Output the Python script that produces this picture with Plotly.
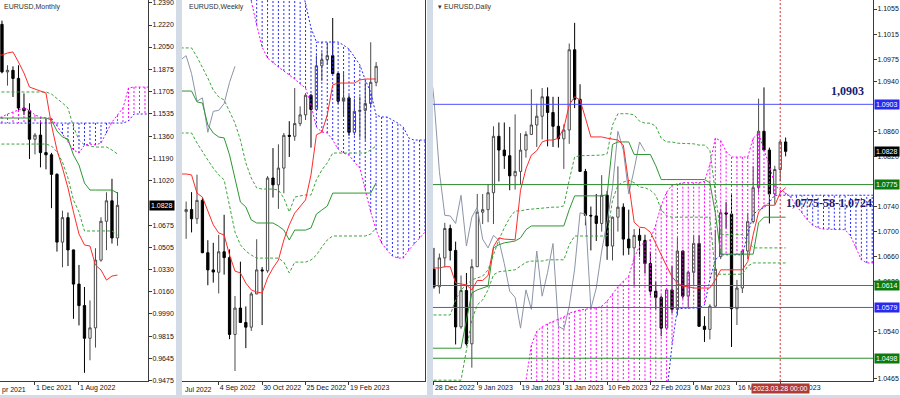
import pandas as pd
import plotly.graph_objects as go

# ===================== MONTHLY (EURUSD, MN1) =====================
m_dates = pd.date_range("2021-06-01", periods=22, freq="MS")
m_open = [1.2225, 1.1858, 1.1870, 1.1808, 1.1579, 1.1558, 1.1338, 1.1370, 1.1235, 1.1218, 1.1067,
          1.0544, 1.0733, 1.0484, 1.0220, 1.0054, 0.9802, 0.9882, 1.0405, 1.0705, 1.0863, 1.0576]
m_high = [1.2254, 1.1909, 1.1901, 1.1909, 1.1692, 1.1616, 1.1386, 1.1483, 1.1495, 1.1233, 1.1076,
          1.0787, 1.0773, 1.0486, 1.0368, 1.0198, 1.0094, 1.0497, 1.0736, 1.0929, 1.1033, 1.0930]
m_low = [1.1847, 1.1752, 1.1664, 1.1563, 1.1524, 1.1186, 1.1221, 1.1121, 1.1106, 1.0806, 1.0471,
         1.0349, 1.0359, 0.9952, 0.9901, 0.9535, 0.9632, 0.9730, 1.0393, 1.0482, 1.0533, 1.0516]
m_close = [1.1858, 1.1870, 1.1808, 1.1579, 1.1558, 1.1338, 1.1370, 1.1235, 1.1218, 1.1067, 1.0544,
           1.0733, 1.0484, 1.0220, 1.0054, 0.9802, 0.9882, 1.0405, 1.0705, 1.0863, 1.0576, 1.0828]
M_LINE_START = -1  # first bar position of the indicator arrays
m_tenkan = [1.1988, 1.1988, 1.2004, 1.2012, 1.1934, 1.1849, 1.1741, 1.1726, 1.1710, 1.1695, 1.1448,
            1.1255, 1.1116, 1.0962, 1.0776, 1.0607, 1.0522, 1.0514, 1.0367, 1.0329, 1.0251, 1.0282, 1.0290]
m_kijun = [1.1502, 1.1502, 1.1502, 1.1502, 1.1502, 1.1502, 1.1502, 1.1502, 1.1502, 1.1502, 1.1487,
           1.1402, 1.1355, 1.1340, 1.1216, 1.1139, 1.1000, 1.0946, 1.0946, 1.0946, 1.0946, 1.0946, 1.0923]
m_dash_up = [1.1703, 1.1703, 1.1703, 1.1703, 1.1703, 1.1703, 1.1703, 1.1703, 1.1703, 1.1703, 1.1687,
             1.1656, 1.1618, 1.1579, 1.1433, 1.1332, 1.1294, 1.1286, 1.1278, 1.1278, 1.1278, 1.1255, 1.1224]
m_dash_dn = [1.1301, 1.1301, 1.1301, 1.1301, 1.1301, 1.1301, 1.1301, 1.1301, 1.1301, 1.1301, 1.1286,
             1.1240, 1.1162, 1.1039, 1.0869, 1.0776, 1.0630, 1.0630, 1.0630, 1.0630, 1.0630, 1.0630, 1.0599]
m_span_a = [1.1502, 1.1510, 1.1533, 1.1548, 1.1564, 1.1579, 1.1564, 1.1525, 1.1510, 1.1502, 1.1502,
            1.1440, 1.1379, 1.1324, 1.1255, 1.1232, 1.1294, 1.1301, 1.1294, 1.1309, 1.1386, 1.1471,
            1.1525, 1.1579, 1.1734, 1.1741, 1.1741, 1.1741, 1.1741]
m_span_b = [1.1463, 1.1463, 1.1463, 1.1463, 1.1463, 1.1463, 1.1463, 1.1463, 1.1463, 1.1463, 1.1463,
            1.1463, 1.1463, 1.1463, 1.1463, 1.1463, 1.1463, 1.1463, 1.1463, 1.1463, 1.1463, 1.1463,
            1.1463, 1.1463, 1.1479, 1.1533, 1.1533, 1.1533, 1.1533]
m_yticks = [1.2390, 1.2220, 1.2050, 1.1875, 1.1705, 1.1535, 1.1360, 1.1190, 1.1020, 1.0675,
            1.0505, 1.0330, 1.0160, 0.9990, 0.9815, 0.9645, 0.9475]
m_xtick_dates = ["2021-12-01", "2022-08-01"]
m_xtick_text = ["1 Dec 2021", "1 Aug 2022"]

# ===================== WEEKLY (EURUSD, W1) =====================
w_dates = pd.date_range("2022-07-24", periods=36, freq="7D")
w_open = [1.0211, 1.0220, 1.0181, 1.0259, 1.0037, 0.9964, 0.9954, 1.0041, 1.0016, 0.9690, 0.9802, 0.9741,
          0.9721, 0.9862, 0.9964, 0.9960, 1.0354, 1.0325, 1.0396, 1.0535, 1.0531, 1.0585, 1.0622, 1.0705,
          1.0645, 1.0830, 1.0856, 1.0873, 1.0797, 1.0680, 1.0694, 1.0548, 1.0637, 1.0641, 1.0670, 1.0760]
w_high = [1.0254, 1.0294, 1.0368, 1.0268, 1.0090, 1.0079, 1.0113, 1.0198, 1.0051, 0.9853, 0.9999, 0.9809,
          0.9871, 1.0094, 0.9976, 1.0362, 1.0481, 1.0497, 1.0545, 1.0595, 1.0736, 1.0658, 1.0714, 1.0711,
          1.0874, 1.0887, 1.0929, 1.1033, 1.0801, 1.0804, 1.0705, 1.0691, 1.0700, 1.0760, 1.0930, 1.0846]
w_low = [1.0096, 1.0123, 1.0159, 1.0035, 0.9899, 0.9910, 0.9864, 0.9944, 0.9670, 0.9535, 0.9739, 0.9632,
         0.9705, 0.9861, 0.9730, 0.9952, 1.0271, 1.0223, 1.0289, 1.0443, 1.0512, 1.0574, 1.0600, 1.0483,
         1.0644, 1.0766, 1.0835, 1.0796, 1.0669, 1.0613, 1.0533, 1.0535, 1.0525, 1.0516, 1.0655, 1.0743]
w_close = [1.0220, 1.0181, 1.0259, 1.0037, 0.9964, 0.9955, 1.0041, 1.0016, 0.9690, 0.9802, 0.9741, 0.9721,
           0.9862, 0.9964, 0.9960, 1.0354, 1.0325, 1.0396, 1.0535, 1.0531, 1.0585, 1.0622, 1.0705, 1.0645,
           1.0830, 1.0856, 1.0873, 1.0797, 1.0680, 1.0694, 1.0548, 1.0637, 1.0641, 1.0670, 1.0760, 1.0828]
W_LINE_START = -1
w_tenkan = [1.0371, 1.0371, 1.0367, 1.0290, 1.0273, 1.0218, 1.0155, 1.0121, 1.0112, 1.0027, 0.9959, 0.9951,
            0.9908, 0.9879, 0.9870, 0.9866, 0.9930, 0.9972, 1.0006, 1.0091, 1.0155, 1.0205, 1.0231, 1.0261,
            1.0367, 1.0537, 1.0549, 1.0621, 1.0749, 1.0757, 1.0757, 1.0757, 1.0757, 1.0770, 1.0774, 1.0774,
            1.0774]
w_kijun = [1.0723, 1.0723, 1.0723, 1.0677, 1.0672, 1.0579, 1.0545, 1.0528, 1.0524, 1.0452, 1.0358, 1.0252,
           1.0231, 1.0176, 1.0163, 1.0163, 1.0163, 1.0163, 1.0150, 1.0133, 1.0091, 1.0133, 1.0133, 1.0133,
           1.0142, 1.0201, 1.0218, 1.0235, 1.0290, 1.0290, 1.0290, 1.0290, 1.0290, 1.0290, 1.0290, 1.0290,
           1.0333]
w_dash_up = [1.0906, 1.0906, 1.0906, 1.0868, 1.0825, 1.0778, 1.0727, 1.0698, 1.0685, 1.0634, 1.0587, 1.0515,
             1.0418, 1.0354, 1.0312, 1.0307, 1.0307, 1.0307, 1.0303, 1.0269, 1.0210, 1.0273, 1.0278, 1.0282,
             1.0282, 1.0346, 1.0388, 1.0418, 1.0460, 1.0460, 1.0460, 1.0460, 1.0460, 1.0460, 1.0460, 1.0473,
             1.0490]
w_dash_dn = [1.0545, 1.0545, 1.0545, 1.0503, 1.0464, 1.0430, 1.0396, 1.0367, 1.0346, 1.0239, 1.0125, 1.0070,
             1.0044, 1.0027, 1.0014, 1.0014, 1.0014, 1.0014, 1.0014, 0.9997, 0.9951, 0.9997, 0.9997, 0.9997,
             1.0006, 1.0027, 1.0061, 1.0091, 1.0108, 1.0108, 1.0108, 1.0108, 1.0108, 1.0108, 1.0108, 1.0116,
             1.0142]
w_span_a = [1.1400, 1.1390, 1.1380, 1.1370, 1.1360, 1.1350, 1.1340, 1.1320, 1.1300, 1.1280, 1.1250, 1.1200,
            1.1150, 1.1105, 1.1003, 1.0910, 1.0863, 1.0842, 1.0825, 1.0808, 1.0791, 1.0774, 1.0753, 1.0736,
            1.0664, 1.0570, 1.0549, 1.0545, 1.0515, 1.0477, 1.0460, 1.0451, 1.0422, 1.0396, 1.0303, 1.0210,
            1.0133, 1.0078, 1.0048, 1.0023, 1.0014, 1.0014, 1.0048, 1.0074, 1.0099, 1.0129, 1.0150]
w_span_b = [1.1500, 1.1500, 1.1500, 1.1500, 1.1500, 1.1500, 1.1500, 1.1500, 1.1500, 1.1500, 1.1500, 1.1500,
            1.1500, 1.1480, 1.1460, 1.1440, 1.1420, 1.1400, 1.1380, 1.1360, 1.1340, 1.1300, 1.1200, 1.1097,
            1.0991, 1.0931, 1.0931, 1.0931, 1.0931, 1.0931, 1.0918, 1.0901, 1.0868, 1.0834, 1.0770, 1.0719,
            1.0621, 1.0613, 1.0613, 1.0600, 1.0587, 1.0570, 1.0524, 1.0515, 1.0515, 1.0515, 1.0515]
w_xtick_dates = ["2022-09-04", "2022-10-30", "2022-12-25", "2023-02-19"]
w_xtick_text = ["4 Sep 2022", "30 Oct 2022", "25 Dec 2022", "19 Feb 2023"]

# ===================== DAILY (EURUSD, D1) =====================
d_dates = pd.bdate_range("2022-12-28", "2023-03-29")
d_open = [1.0640, 1.0612, 1.0658, 1.0705, 1.0670, 1.0548, 1.0606, 1.0521, 1.0644, 1.0731, 1.0735, 1.0762,
          1.0852, 1.0830, 1.0821, 1.0789, 1.0796, 1.0830, 1.0855, 1.0870, 1.0884, 1.0915, 1.0890, 1.0868,
          1.0848, 1.0862, 1.0990, 1.0911, 1.0796, 1.0726, 1.0725, 1.0713, 1.0758, 1.0677, 1.0723, 1.0739,
          1.0688, 1.0674, 1.0694, 1.0686, 1.0649, 1.0605, 1.0595, 1.0546, 1.0607, 1.0576, 1.0669, 1.0597,
          1.0635, 1.0681, 1.0549, 1.0544, 1.0581, 1.0660, 1.0730, 1.0728, 1.0577, 1.0610, 1.0669, 1.0716,
          1.0770, 1.0860, 1.0830, 1.0760, 1.0799, 1.0843]
d_high = [1.0674, 1.0665, 1.0714, 1.0711, 1.0684, 1.0630, 1.0634, 1.0656, 1.0760, 1.0760, 1.0776, 1.0868,
          1.0874, 1.0874, 1.0867, 1.0887, 1.0857, 1.0860, 1.0927, 1.0904, 1.0929, 1.0930, 1.0915, 1.0915,
          1.0871, 1.1000, 1.1033, 1.0935, 1.0800, 1.0740, 1.0760, 1.0790, 1.0765, 1.0724, 1.0804, 1.0745,
          1.0735, 1.0704, 1.0705, 1.0695, 1.0668, 1.0620, 1.0598, 1.0610, 1.0645, 1.0690, 1.0670, 1.0638,
          1.0694, 1.0694, 1.0565, 1.0584, 1.0703, 1.0735, 1.0747, 1.0760, 1.0623, 1.0669, 1.0730, 1.0804,
          1.0912, 1.0930, 1.0834, 1.0805, 1.0845, 1.0850]
d_low = [1.0609, 1.0601, 1.0643, 1.0654, 1.0520, 1.0545, 1.0518, 1.0483, 1.0644, 1.0712, 1.0715, 1.0712,
         1.0780, 1.0800, 1.0766, 1.0767, 1.0775, 1.0818, 1.0854, 1.0835, 1.0847, 1.0836, 1.0835, 1.0834,
         1.0800, 1.0840, 1.0897, 1.0796, 1.0710, 1.0670, 1.0685, 1.0700, 1.0655, 1.0654, 1.0700, 1.0662,
         1.0663, 1.0613, 1.0660, 1.0633, 1.0598, 1.0576, 1.0533, 1.0543, 1.0570, 1.0566, 1.0593, 1.0577,
         1.0615, 1.0548, 1.0524, 1.0528, 1.0580, 1.0656, 1.0705, 1.0516, 1.0551, 1.0602, 1.0656, 1.0713,
         1.0762, 1.0847, 1.0713, 1.0743, 1.0780, 1.0820]
d_close = [1.0612, 1.0658, 1.0705, 1.0670, 1.0548, 1.0606, 1.0521, 1.0644, 1.0731, 1.0735, 1.0762, 1.0852,
           1.0830, 1.0821, 1.0789, 1.0796, 1.0830, 1.0855, 1.0870, 1.0884, 1.0915, 1.0890, 1.0868, 1.0848,
           1.0862, 1.0990, 1.0911, 1.0796, 1.0726, 1.0725, 1.0713, 1.0758, 1.0677, 1.0723, 1.0739, 1.0688,
           1.0674, 1.0694, 1.0686, 1.0649, 1.0605, 1.0595, 1.0546, 1.0607, 1.0576, 1.0669, 1.0597, 1.0635,
           1.0681, 1.0549, 1.0544, 1.0581, 1.0640, 1.0730, 1.0728, 1.0577, 1.0610, 1.0669, 1.0716, 1.0770,
           1.0860, 1.0830, 1.0760, 1.0799, 1.0843, 1.0828]
D_LINE_START = -1
d_tenkan = [1.0642, 1.0642, 1.0642, 1.0644, 1.0644, 1.0618, 1.0616, 1.0615, 1.0607, 1.0622, 1.0622, 1.0630,
            1.0676, 1.0690, 1.0688, 1.0687, 1.0687, 1.0766, 1.0800, 1.0822, 1.0829, 1.0843, 1.0846, 1.0846,
            1.0849, 1.0865, 1.0902, 1.0915, 1.0910, 1.0881, 1.0851, 1.0851, 1.0851, 1.0849, 1.0848, 1.0846,
            1.0838, 1.0774, 1.0715, 1.0707, 1.0706, 1.0699, 1.0682, 1.0663, 1.0645, 1.0628, 1.0618, 1.0613,
            1.0612, 1.0610, 1.0610, 1.0610, 1.0610, 1.0623, 1.0639, 1.0639, 1.0639, 1.0639, 1.0639, 1.0652,
            1.0695, 1.0731, 1.0742, 1.0742, 1.0742, 1.0762, 1.0770]
d_kijun = [1.0514, 1.0514, 1.0514, 1.0514, 1.0514, 1.0514, 1.0514, 1.0559, 1.0602, 1.0607, 1.0610, 1.0613,
           1.0674, 1.0679, 1.0682, 1.0683, 1.0685, 1.0690, 1.0703, 1.0709, 1.0709, 1.0709, 1.0709, 1.0709,
           1.0709, 1.0709, 1.0735, 1.0757, 1.0757, 1.0757, 1.0757, 1.0757, 1.0757, 1.0759, 1.0839, 1.0843,
           1.0843, 1.0843, 1.0823, 1.0823, 1.0823, 1.0823, 1.0805, 1.0783, 1.0783, 1.0783, 1.0783, 1.0783,
           1.0783, 1.0783, 1.0783, 1.0783, 1.0778, 1.0730, 1.0664, 1.0664, 1.0664, 1.0664, 1.0664, 1.0664,
           1.0664, 1.0714, 1.0723, 1.0723, 1.0723, 1.0723, 1.0723]
d_dash_up = [1.0567, 1.0567, 1.0567, 1.0567, 1.0567, 1.0591, 1.0607, 1.0615, 1.0623, 1.0626, 1.0629, 1.0639,
             1.0663, 1.0687, 1.0706, 1.0722, 1.0733, 1.0733, 1.0735, 1.0736, 1.0736, 1.0738, 1.0738, 1.0739,
             1.0739, 1.0741, 1.0782, 1.0819, 1.0821, 1.0821, 1.0822, 1.0822, 1.0822, 1.0824, 1.0870, 1.0888,
             1.0888, 1.0888, 1.0886, 1.0876, 1.0873, 1.0873, 1.0868, 1.0849, 1.0843, 1.0843, 1.0841, 1.0841,
             1.0840, 1.0840, 1.0838, 1.0838, 1.0830, 1.0766, 1.0695, 1.0695, 1.0695, 1.0695, 1.0695, 1.0685,
             1.0674, 1.0674, 1.0674, 1.0674, 1.0674, 1.0674, 1.0674]
d_dash_dn = [1.0463, 1.0463, 1.0463, 1.0463, 1.0463, 1.0463, 1.0463, 1.0511, 1.0559, 1.0583, 1.0591, 1.0607,
             1.0631, 1.0636, 1.0637, 1.0639, 1.0639, 1.0645, 1.0651, 1.0653, 1.0653, 1.0653, 1.0655, 1.0655,
             1.0655, 1.0655, 1.0679, 1.0693, 1.0693, 1.0693, 1.0693, 1.0693, 1.0693, 1.0693, 1.0750, 1.0774,
             1.0779, 1.0782, 1.0778, 1.0771, 1.0770, 1.0766, 1.0758, 1.0735, 1.0725, 1.0723, 1.0723, 1.0723,
             1.0723, 1.0723, 1.0723, 1.0723, 1.0723, 1.0632, 1.0632, 1.0632, 1.0632, 1.0632, 1.0632, 1.0645,
             1.0650, 1.0650, 1.0650, 1.0650, 1.0650, 1.0650, 1.0650]
d_span_a = [1.0430, 1.0430, 1.0430, 1.0430, 1.0430, 1.0430, 1.0430, 1.0430, 1.0430, 1.0430, 1.0430, 1.0430,
            1.0430, 1.0430, 1.0430, 1.0435, 1.0440, 1.0445, 1.0462, 1.0519, 1.0541, 1.0548, 1.0553, 1.0557,
            1.0561, 1.0564, 1.0570, 1.0573, 1.0575, 1.0576, 1.0578, 1.0578, 1.0581, 1.0589, 1.0600, 1.0612,
            1.0621, 1.0629, 1.0658, 1.0677, 1.0683, 1.0687, 1.0711, 1.0742, 1.0763, 1.0774, 1.0776, 1.0778,
            1.0778, 1.0778, 1.0778, 1.0780, 1.0807, 1.0849, 1.0845, 1.0828, 1.0819, 1.0819, 1.0819, 1.0819,
            1.0849, 1.0857, 1.0830, 1.0806, 1.0774, 1.0766, 1.0762, 1.0754, 1.0741, 1.0730, 1.0719, 1.0710,
            1.0706, 1.0704, 1.0704, 1.0703, 1.0703, 1.0703, 1.0693, 1.0674, 1.0655, 1.0650, 1.0650, 1.0650]
d_span_b = [1.0420, 1.0420, 1.0420, 1.0420, 1.0420, 1.0420, 1.0420, 1.0420, 1.0420, 1.0420, 1.0420, 1.0420,
            1.0420, 1.0420, 1.0420, 1.0420, 1.0420, 1.0420, 1.0420, 1.0420, 1.0420, 1.0420, 1.0420, 1.0420,
            1.0420, 1.0420, 1.0420, 1.0420, 1.0420, 1.0420, 1.0420, 1.0420, 1.0420, 1.0420, 1.0420, 1.0420,
            1.0420, 1.0420, 1.0420, 1.0420, 1.0420, 1.0420, 1.0420, 1.0420, 1.0440, 1.0519, 1.0577, 1.0578,
            1.0578, 1.0578, 1.0578, 1.0583, 1.0623, 1.0655, 1.0663, 1.0663, 1.0663, 1.0663, 1.0663, 1.0695,
            1.0727, 1.0735, 1.0738, 1.0747, 1.0758, 1.0758, 1.0758, 1.0758, 1.0758, 1.0758, 1.0758, 1.0758,
            1.0758, 1.0758, 1.0758, 1.0758, 1.0758, 1.0758, 1.0758, 1.0758, 1.0758, 1.0758, 1.0758, 1.0758]
d_yticks = [1.1055, 1.1015, 1.0975, 1.0940, 1.0860, 1.0820, 1.0740, 1.0700, 1.0660,
            1.0620, 1.0540, 1.0465]
d_xtick_dates = ["2022-12-28", "2023-01-09", "2023-01-19", "2023-01-31", "2023-02-10", "2023-02-22",
                 "2023-03-06", "2023-03-16", "2023-03-28"]
d_xtick_text = ["28 Dec 2022", "9 Jan 2023", "19 Jan 2023", "31 Jan 2023", "10 Feb 2023", "22 Feb 2023",
                "6 Mar 2023", "16 Mar 2023", "28 Mar 2023"]
d_levels = [1.0903, 1.0775, 1.0614, 1.0579, 1.0498]
d_level_kind = ["blue", "green", "green", "blue", "green"]
d_cursor_date = "2023-03-28"
d_cursor_label = "2023.03.28 00:00"
last_price = 1.0828
note_top = "1,0903"
note_cloud = "1,0775-58-1,0724"
CHIKOU_SHIFT = 26

# ===================== STYLE =====================
FONT = "Liberation Sans, Arial, sans-serif"
FS = 7
RED = "#FF2B2B"
GREEN = "#2E9632"
DGREEN = "#3DA53D"
MAG = "#FF00FF"
BLUE = "#2828FF"
GRAY = "#8B95A8"
LEVEL_LINE = {"blue": "#5050FF", "green": "#2E8B2E"}
LEVEL_BOX = {"blue": "#2828F0", "green": "#0E7A0E"}
FRAME = "#3A3A3A"

fig = go.Figure()


def pos_idx(dates, d):
    return list(dates).index(pd.Timestamp(d))


def line_x(start, arr):
    return [start + k for k in range(len(arr))]


def add_cloud(xa, ya, a, b, start):
    mx, my, bx, by = [], [], [], []
    for k, (va, vb) in enumerate(zip(a, b)):
        x = start + k
        if va >= vb:
            mx += [x, x, None]
            my += [va, vb, None]
        else:
            bx += [x, x, None]
            by += [va, vb, None]
    common = dict(xaxis=xa, yaxis=ya, mode="lines", hoverinfo="skip", showlegend=False)
    fig.add_trace(go.Scatter(x=mx, y=my, line=dict(color=MAG, width=1, dash="2px,2px"), **common))
    fig.add_trace(go.Scatter(x=bx, y=by, line=dict(color=BLUE, width=1, dash="2px,2px"), **common))
    fig.add_trace(go.Scatter(x=line_x(start, b), y=b, line=dict(color=BLUE, width=1, dash="2px,2px"), **common))
    fig.add_trace(go.Scatter(x=line_x(start, a), y=a, line=dict(color=MAG, width=1, dash="2px,2px"), **common))


def add_candles(xa, ya, n, o, h, l, c):
    fig.add_trace(go.Candlestick(
        x=list(range(n)), open=o, high=h, low=l, close=c, xaxis=xa, yaxis=ya,
        increasing=dict(line=dict(color="#4A4A4A", width=1), fillcolor="#FFFFFF"),
        decreasing=dict(line=dict(color="#000000", width=1), fillcolor="#000000"),
        whiskerwidth=0, hoverinfo="skip", showlegend=False))


def add_line(xa, ya, start, arr, color, dash=None, width=1):
    fig.add_trace(go.Scatter(x=line_x(start, arr), y=arr, xaxis=xa, yaxis=ya, mode="lines",
                             line=dict(color=color, width=width, dash=dash),
                             hoverinfo="skip", showlegend=False))


# ---- Monthly ----
add_cloud("x", "y", m_span_a, m_span_b, M_LINE_START)
add_candles("x", "y", len(m_dates), m_open, m_high, m_low, m_close)
add_line("x", "y", M_LINE_START, m_dash_up, DGREEN, "3px,2px")
add_line("x", "y", M_LINE_START, m_dash_dn, DGREEN, "3px,2px")
add_line("x", "y", M_LINE_START, m_kijun, GREEN)
add_line("x", "y", M_LINE_START, m_tenkan, RED)

# ---- Weekly ----
add_cloud("x2", "y2", w_span_a, w_span_b, W_LINE_START)
add_line("x2", "y2", -CHIKOU_SHIFT, w_close, GRAY)
add_candles("x2", "y2", len(w_dates), w_open, w_high, w_low, w_close)
add_line("x2", "y2", W_LINE_START, w_dash_up, DGREEN, "3px,2px")
add_line("x2", "y2", W_LINE_START, w_dash_dn, DGREEN, "3px,2px")
add_line("x2", "y2", W_LINE_START, w_kijun, GREEN)
add_line("x2", "y2", W_LINE_START, w_tenkan, RED)

# ---- Daily ----
add_cloud("x3", "y3", d_span_a, d_span_b, D_LINE_START)
add_line("x3", "y3", -CHIKOU_SHIFT, d_close, GRAY)
add_candles("x3", "y3", len(d_dates), d_open, d_high, d_low, d_close)
add_line("x3", "y3", D_LINE_START, d_dash_up, DGREEN, "3px,2px")
add_line("x3", "y3", D_LINE_START, d_dash_dn, DGREEN, "3px,2px")
add_line("x3", "y3", D_LINE_START, d_kijun, GREEN)
add_line("x3", "y3", D_LINE_START, d_tenkan, RED)

# ===================== LAYOUT =====================
W, H = 900, 398
Y_DOM = [17 / H, 1.0]
tickfont = dict(family=FONT, size=FS, color="#111111")


def xax(dom, rng, anchor, tv, tt):
    return dict(domain=dom, range=rng, anchor=anchor, showgrid=False, zeroline=False,
                showline=True, linecolor=FRAME, linewidth=1, ticks="outside", ticklen=3,
                tickcolor=FRAME, tickvals=tv, ticktext=tt, ticklabelposition="outside right",
                tickangle=0, automargin=False, ticklabeloverflow="allow",
                tickfont=tickfont, rangeslider=dict(visible=False), fixedrange=True)


def yax(rng, anchor, tv, show=True):
    return dict(domain=Y_DOM, range=rng, anchor=anchor, side="right", showgrid=False,
                zeroline=False, showline=True, linecolor=FRAME, linewidth=1,
                ticks="outside" if show else "", ticklen=3, tickcolor=FRAME,
                tickvals=tv, tickformat=".4f", showticklabels=show, tickfont=tickfont,
                ticklabelstandoff=-1, ticklabeloverflow="allow",
                automargin=False, fixedrange=True)


m_tv = [pos_idx(m_dates, d) for d in m_xtick_dates]
w_tv = [pos_idx(w_dates, d) for d in w_xtick_dates]
d_tv = [pos_idx(d_dates, d) for d in d_xtick_dates]

shapes = []
# panel backgrounds (white windows on a grey frame)
for x0, x1 in [(0, 176), (182, 427), (433, 900)]:
    shapes.append(dict(type="rect", xref="paper", yref="paper", x0=x0 / W, x1=x1 / W,
                       y0=3 / H, y1=1, fillcolor="#FFFFFF", line=dict(width=0), layer="below"))
# horizontal levels on the daily chart
for lv, kind in zip(d_levels, d_level_kind):
    shapes.append(dict(type="line", xref="x3 domain", yref="y3", x0=0, x1=1, y0=lv, y1=lv,
                       line=dict(color=LEVEL_LINE[kind], width=1), layer="above"))
cur_x = pos_idx(d_dates, d_cursor_date)
shapes.append(dict(type="line", xref="x3", yref="y3 domain", x0=cur_x, x1=cur_x, y0=0, y1=1,
                   line=dict(color="#E03030", width=1, dash="2px,2px"), layer="above"))

ann = []
title_font = dict(family=FONT, size=FS, color="#303030")
ann.append(dict(text="EURUSD,Monthly", xref="paper", yref="paper", x=2 / W, y=1, xanchor="left",
                yanchor="top", yshift=-1, showarrow=False, font=title_font))
ann.append(dict(text="EURUSD,Weekly", xref="paper", yref="paper", x=187 / W, y=1, xanchor="left",
                yanchor="top", yshift=-1, showarrow=False, font=title_font))
ann.append(dict(text="▾ EURUSD,Daily", xref="paper", yref="paper", x=436 / W, y=1, xanchor="left",
                yanchor="top", yshift=-1, showarrow=False, font=title_font))
# date labels cut by the left edges of the monthly / weekly windows
ann.append(dict(text="pr 2021", xref="paper", yref="paper", x=0, y=Y_DOM[0], xanchor="left",
                yanchor="top", yshift=-3, showarrow=False, font=tickfont))
ann.append(dict(text="Jul 2022", xref="paper", yref="paper", x=183 / W, y=Y_DOM[0], xanchor="left",
                yanchor="top", yshift=-3, showarrow=False, font=tickfont))


def price_box(xref, yref, y, color, text):
    return dict(text=text, xref=xref, yref=yref, x=1, y=y, xanchor="left", yanchor="middle",
                xshift=1, showarrow=False, bgcolor=color, borderpad=1,
                font=dict(family=FONT, size=FS, color="#FFFFFF"))


ann.append(price_box("x domain", "y", last_price, "#000000", f"{last_price:.4f}"))
for lv, kind in zip(d_levels, d_level_kind):
    ann.append(price_box("x3 domain", "y3", lv, LEVEL_BOX[kind], f"{lv:.4f}"))
ann.append(price_box("x3 domain", "y3", last_price, "#000000", f"{last_price:.4f}"))
ann.append(dict(text=d_cursor_label, xref="x3", yref="y3 domain", x=cur_x, y=0, xanchor="center",
                yanchor="top", yshift=-2, showarrow=False, bgcolor="#B03A35", borderpad=1,
                font=dict(family=FONT, size=FS, color="#FFFFFF")))
note_font = dict(family="Liberation Serif, Times New Roman, serif", size=12, color="#1A1A6E")
ann.append(dict(text=f"<b>{note_top}</b>", xref="x3", yref="y3", x=76.5, y=d_levels[0],
                yshift=13, showarrow=False, font=note_font))
ann.append(dict(text=f"<b>{note_cloud}</b>", xref="x3", yref="y3", x=73, y=1.0745,
                showarrow=False, font=note_font))

fig.update_layout(
    width=W, height=H, margin=dict(l=0, r=0, t=0, b=0, autoexpand=False),
    paper_bgcolor="#D3DCE6", plot_bgcolor="#FFFFFF", showlegend=False,
    boxgap=0.4,
    xaxis=xax([0, 148 / W], [-0.36, 26.55], "y", m_tv, m_xtick_text),
    yaxis=yax([0.9472, 1.2413], "x", m_yticks),
    xaxis2=xax([182 / W, 425 / W], [-0.76, 44.0], "y2", w_tv, w_xtick_text),
    yaxis2=yax([0.94925, 1.11094], "x2", [], show=False),
    xaxis3=xax([433 / W, 873 / W], [-0.18, 81.15], "y3", d_tv, d_xtick_text),
    yaxis3=yax([1.04617, 1.10694], "x3", d_yticks),
    shapes=shapes, annotations=ann,
)

fig.write_html("out.html")
